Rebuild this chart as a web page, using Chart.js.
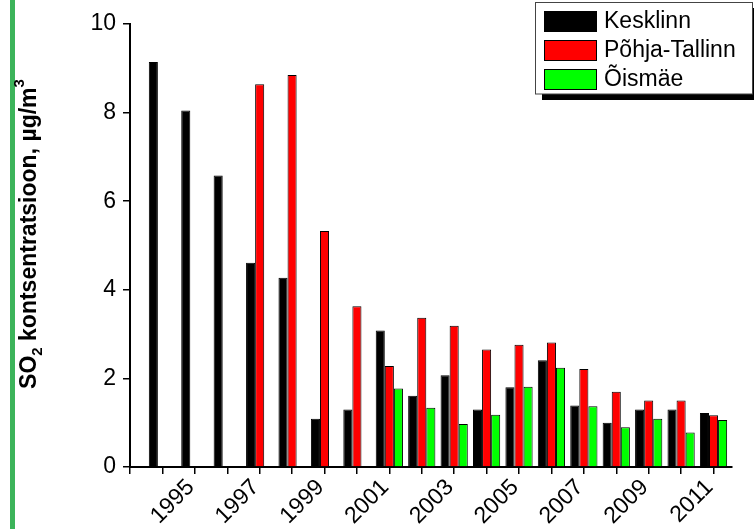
<!DOCTYPE html>
<html>
<head>
<meta charset="utf-8">
<script src="https://cdn.jsdelivr.net/npm/chart.js@4"></script>
<style>
  body { margin: 0; background: #fff; }
  #wrap { width: 754px; height: 529px; }
</style>
</head>
<body>
<div id="wrap"><canvas id="chart" width="754" height="529"></canvas></div>
<script>
// SO2 concentrations by district, µg/m3
var years = [1994, 1995, 1996, 1997, 1998, 1999, 2000, 2001, 2002, 2003, 2004, 2005, 2006, 2007, 2008, 2009, 2010, 2011];
var kesklinn = [9.14, 8.05, 6.58, 4.61, 4.27, 1.09, 1.30, 3.08, 1.61, 2.07, 1.30, 1.80, 2.41, 1.39, 1.00, 1.30, 1.30, 1.22];
var pohjaTallinn = [null, null, null, 8.64, 8.85, 5.33, 3.63, 2.28, 3.37, 3.19, 2.65, 2.76, 2.81, 2.21, 1.70, 1.50, 1.50, 1.17];
var oismae = [null, null, null, null, null, null, null, 1.77, 1.34, 0.97, 1.18, 1.81, 2.24, 1.37, 0.90, 1.09, 0.78, 1.06];
var seriesNames = ['Kesklinn', 'Põhja-Tallinn', 'Õismäe'];
var xTicks = [1993, 1994, 1995, 1996, 1997, 1998, 1999, 2000, 2001, 2002, 2003, 2004, 2005, 2006, 2007, 2008, 2009, 2010, 2011];
var yTicks = [0, 2, 4, 6, 8, 10];

var FONT = "'Liberation Sans', Arial, sans-serif";
Chart.defaults.font.family = FONT;
Chart.defaults.color = '#000';

function points(values) {
    return years.map((yr, i) => ({ x: yr, y: values[i] }));
}

// page decoration, y title with sub/superscript, and the boxed legend
var extras = {
    id: 'extras',
    beforeDraw(chart) {
        var ctx = chart.ctx;
        ctx.save();
        ctx.fillStyle = '#fff';
        ctx.fillRect(0, 0, chart.width, chart.height);
        ctx.fillStyle = '#3cb45a';
        ctx.fillRect(10, 0, 5, chart.height);
        ctx.restore();
    },
    afterDraw(chart) {
        var ctx = chart.ctx;
        ctx.save();

        // y axis title
        var big = 'bold 23px ' + FONT, small = 'bold 15px ' + FONT;
        var parts = [
            { t: 'SO', f: big, dy: 0 },
            { t: '2', f: small, dy: 6 },
            { t: ' kontsentratsioon, µg/m', f: big, dy: 0 },
            { t: '3', f: small, dy: -12 }
        ];
        var total = 0;
        parts.forEach(p => { ctx.font = p.f; p.w = ctx.measureText(p.t).width; total += p.w; });
        ctx.translate(36, 234);
        ctx.rotate(-Math.PI / 2);
        ctx.fillStyle = '#000';
        ctx.textBaseline = 'alphabetic';
        var x = -total / 2;
        parts.forEach(p => {
            ctx.font = p.f;
            ctx.fillText(p.t, x, p.dy);
            x += p.w;
        });
        ctx.restore();

        // legend
        ctx.save();
        ctx.fillStyle = '#000';
        ctx.fillRect(542, 8, 212, 92);
        ctx.fillStyle = '#fff';
        ctx.fillRect(535.5, 2.5, 217, 91.5);
        ctx.strokeStyle = '#444';
        ctx.lineWidth = 1;
        ctx.strokeRect(535.5, 2.5, 217, 91.5);
        ctx.font = '23px ' + FONT;
        ctx.textBaseline = 'middle';
        chart.data.datasets.forEach((ds, i) => {
            var y = 11 + i * 29;
            ctx.fillStyle = ds.backgroundColor;
            ctx.fillRect(544.5, y + 0.5, 52, 20);
            ctx.strokeStyle = '#000';
            ctx.strokeRect(544.5, y + 0.5, 52, 20);
            ctx.fillStyle = '#000';
            ctx.fillText(ds.label, 604, y + 11);
        });
        ctx.restore();
    }
};

var ctx = document.getElementById('chart');
var myChart = new Chart(ctx, {
    type: 'bar',
    data: {
        datasets: [{
            label: seriesNames[0],
            data: points(kesklinn),
            backgroundColor: '#000000',
            borderColor: '#000000',
            borderWidth: 1,
        }, {
            label: seriesNames[1],
            data: points(pohjaTallinn),
            backgroundColor: '#ff0000',
            borderColor: '#000000',
            borderWidth: 1,
        }, {
            label: seriesNames[2],
            data: points(oismae),
            backgroundColor: '#00ff00',
            borderColor: '#000000',
            borderWidth: 1,
        }]
    },
    plugins: [extras],
    options: {
        responsive: false,
        devicePixelRatio: 1,
        animation: false,
        categoryPercentage: 0.84,
        barPercentage: 1,
        layout: {
            padding: { left: 0, top: 24, right: 22, bottom: 0 }
        },
        plugins: {
            legend: { display: false },
            tooltip: { enabled: false },
            title: { display: false }
        },
        scales: {
            x: {
                type: 'linear',
                offset: false,
                min: 1993,
                max: 2011.57,
                afterBuildTicks: function (scale) {
                    scale.ticks = xTicks.map(v => ({ value: v }));
                },
                afterFit: function (scale) {
                    scale.height = 62;
                },
                ticks: {
                    autoSkip: false,
                    maxRotation: 45,
                    minRotation: 45,
                    padding: 0,
                    labelOffset: -4,
                    font: { size: 23 },
                    color: '#000',
                    callback: function (value) {
                        return (value >= 1995 && value % 2 === 1) ? String(value) : '';
                    }
                },
                grid: {
                    offset: false,
                    drawOnChartArea: false,
                    drawTicks: true,
                    tickLength: 7,
                    color: '#000',
                    lineWidth: 1.5
                },
                border: { display: true, color: '#000', width: 2 }
            },
            y: {
                min: 0,
                max: 10,
                afterBuildTicks: function (scale) {
                    scale.ticks = yTicks.map(v => ({ value: v }));
                },
                afterFit: function (scale) {
                    scale.width = 130;
                },
                ticks: {
                    padding: 7,
                    font: { size: 23 },
                    color: '#000'
                },
                grid: {
                    drawOnChartArea: false,
                    drawTicks: true,
                    tickLength: 7,
                    color: '#000',
                    lineWidth: 1.5
                },
                border: { display: true, color: '#000', width: 2 }
            }
        }
    }
});
</script>
</body>
</html>
